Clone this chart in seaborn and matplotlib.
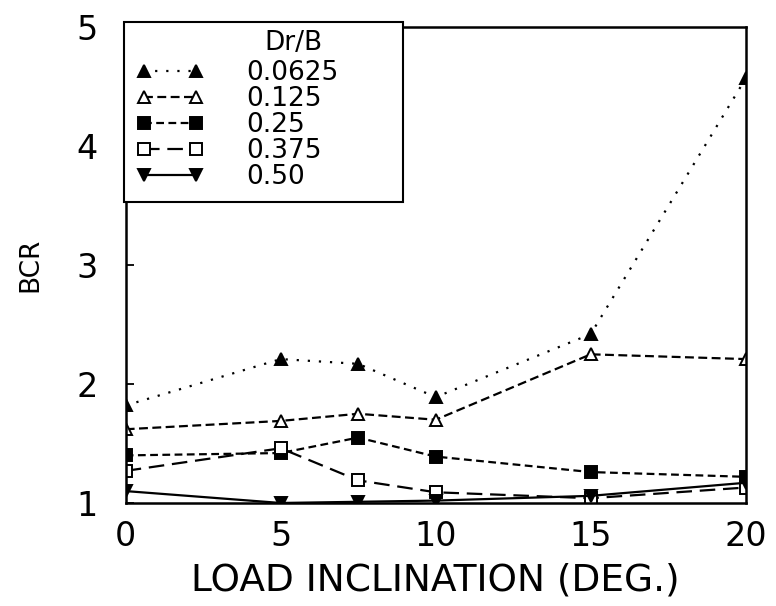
import matplotlib
matplotlib.use("Agg")
import matplotlib.pyplot as plt
import seaborn as sns
import pandas as pd

# Bearing capacity ratio versus load inclination for several Dr/B values
inclination = [0, 5, 7.5, 10, 15, 20]
bcr_0625 = [1.82, 2.21, 2.17, 1.89, 2.42, 4.57]
bcr_125 = [1.62, 1.69, 1.75, 1.70, 2.25, 2.21]
bcr_25 = [1.40, 1.42, 1.55, 1.39, 1.26, 1.22]
bcr_375 = [1.27, 1.46, 1.19, 1.09, 1.04, 1.13]
bcr_50 = [1.10, 1.00, 1.01, 1.02, 1.06, 1.17]
ratio_labels = ["0.0625", "0.125", "0.25", "0.375", "0.50"]
x_ticks = [0, 5, 10, 15, 20]
y_ticks = [1, 2, 3, 4, 5]

sns.set_style("ticks")
plt.rcParams["font.family"] = ["DejaVu Sans"]
plt.rcParams["text.color"] = "black"
plt.rcParams["axes.labelcolor"] = "black"
plt.rcParams["xtick.color"] = "black"
plt.rcParams["ytick.color"] = "black"

series = [bcr_0625, bcr_125, bcr_25, bcr_375, bcr_50]
styles = [
    dict(linestyle=(0, (1, 4)), marker="^", markerfacecolor="black"),
    dict(linestyle=(0, (4, 2)), marker="^", markerfacecolor="white"),
    dict(linestyle=(0, (3.5, 2)), marker="s", markerfacecolor="black"),
    dict(linestyle=(0, (7, 3.5)), marker="s", markerfacecolor="white"),
    dict(linestyle="-", marker="v", markerfacecolor="black"),
]

fig = plt.figure(figsize=(7.76, 6.06), dpi=100)
ax = fig.add_axes([0.162, 0.170, 0.799, 0.785])

for label, values, st in zip(ratio_labels, series, styles):
    df = pd.DataFrame({"inclination": inclination, "bcr": values})
    sns.lineplot(data=df, x="inclination", y="bcr", ax=ax, color="black",
                 linewidth=1.6, markersize=8, markeredgecolor="black",
                 markeredgewidth=1.4, label=label, **st)

ax.set_xlim(0, 20)
ax.set_ylim(1, 5)
ax.set_xticks(x_ticks)
ax.set_yticks(y_ticks)
ax.tick_params(axis="y", direction="in", length=6, width=1.3, pad=20,
               labelsize=24)
ax.tick_params(axis="x", direction="in", length=0, pad=12, labelsize=24)
for s in ax.spines.values():
    s.set_linewidth(1.8)
    s.set_color("black")

ax.set_xlabel("LOAD INCLINATION (DEG.)", fontsize=27, labelpad=7)
ax.set_ylabel("BCR", fontsize=19, labelpad=24)

leg = ax.legend(loc="upper left", bbox_to_anchor=(-0.002, 0.0, 0.449, 1.0105),
                mode="expand", borderaxespad=0, numpoints=2, fontsize=19,
                title=" ", title_fontsize=19, frameon=True, fancybox=False,
                edgecolor="black", framealpha=1, handlelength=2.55,
                handletextpad=1.6, labelspacing=0.0, borderpad=0.45)
leg.get_frame().set_linewidth(1.5)
fig.text(293 / 776, 1 - 43 / 606, "Dr/B", fontsize=19, ha="center",
         va="center")

fig.savefig("out.png", dpi=100)
